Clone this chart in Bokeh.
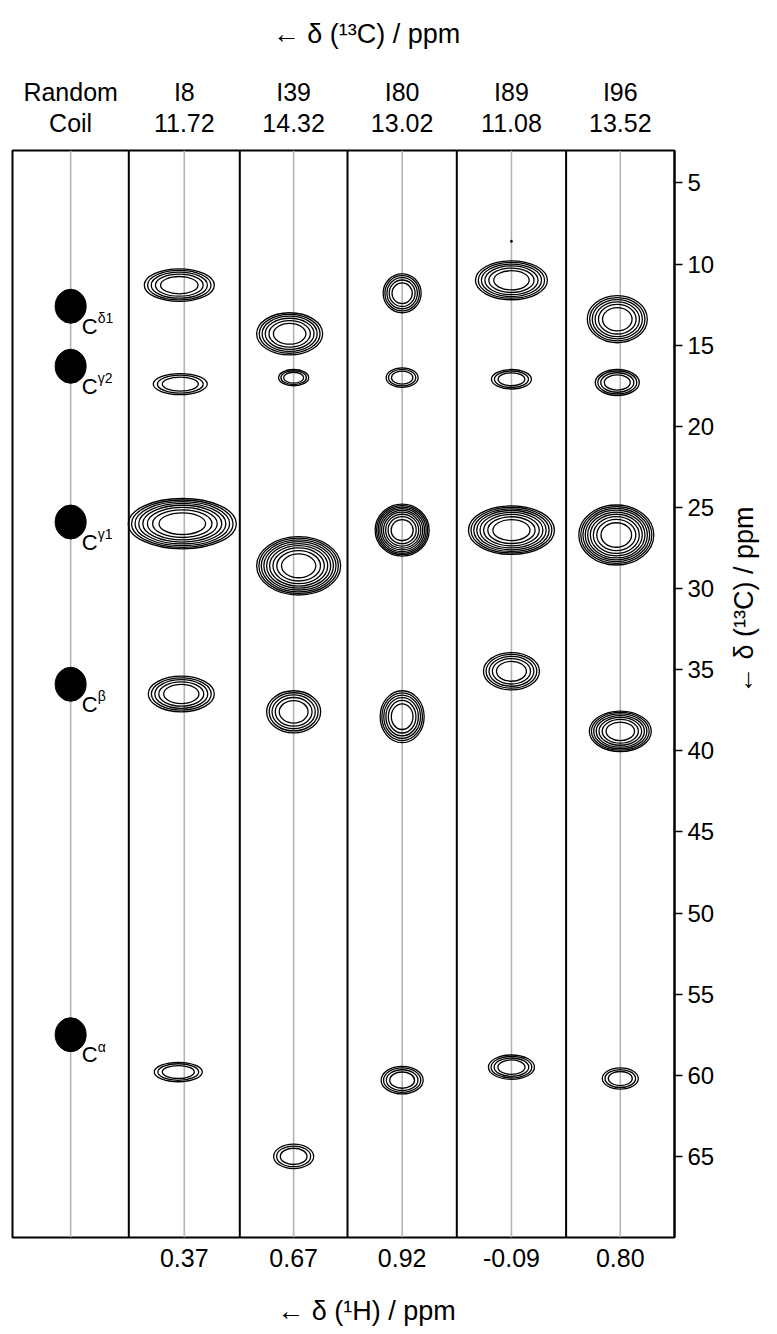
import math
from bokeh.plotting import figure
from bokeh.models import Range1d, FixedTicker, LinearAxis, ColumnDataSource
from bokeh.core.properties import value
from bokeh.embed import file_html
from bokeh.resources import INLINE

# ---------------- data ----------------
RESIDUES = ["I8", "I39", "I80", "I89", "I96"]
C13_SHIFTS = ["11.72", "14.32", "13.02", "11.08", "13.52"]
H1_SHIFTS = ["0.37", "0.67", "0.92", "-0.09", "0.80"]

# strip boundaries (x units = frame pixels), first strip = random coil
STRIP_EDGES = [0, 116.3, 227.3, 335, 444.3, 553.6, 662]

# random-coil reference shifts (13C, ppm)
RC_ATOMS = ["δ1", "γ2", "γ1", "β", "α"]
RC_PPM = [12.6, 16.3, 25.9, 35.9, 57.5]

# observed cross peaks: strip index (1..5), 1H offset in strip, 13C ppm,
# width (x units), height (ppm), number of contour levels
PEAK_STRIP = [1, 1, 1, 1, 1,
              2, 2, 2, 2, 2,
              3, 3, 3, 3, 3,
              4, 4, 4, 4, 4,
              5, 5, 5, 5, 5]
PEAK_DX = [-5, -4, -2, -3, -6,
           -4, 0, 5, 0, 0,
           0, 0, 0, 0, 0,
           0, 0, 0, 0, 0,
           -3, -3, -4, 0, 0]
PEAK_PPM = [11.3, 17.4, 26.0, 36.5, 59.8,
            14.3, 17.0, 28.6, 37.6, 65.0,
            11.8, 17.0, 26.4, 37.9, 60.3,
            11.0, 17.1, 26.4, 35.1, 59.5,
            13.4, 17.3, 26.7, 38.8, 60.2]
PEAK_W = [70, 54, 108, 66, 48,
          66, 30, 84, 54, 40,
          38, 32, 54, 44, 42,
          72, 40, 86, 56, 46,
          60, 44, 75, 62, 36]
PEAK_H = [2.0, 1.3, 3.1, 2.2, 1.2,
          2.6, 1.0, 3.6, 2.6, 1.5,
          2.4, 1.2, 3.2, 3.2, 1.7,
          2.4, 1.2, 3.0, 2.3, 1.5,
          2.9, 1.6, 3.7, 2.5, 1.3]
PEAK_N = [5, 3, 8, 5, 3,
          6, 3, 9, 5, 3,
          5, 3, 9, 6, 4,
          6, 3, 8, 5, 4,
          6, 4, 9, 7, 3]
NOISE_STRIP = [4]
NOISE_PPM = [8.6]

Y_TICKS = [5, 10, 15, 20, 25, 30, 35, 40, 45, 50, 55, 60, 65]

FONT = "Liberation Sans"
C13_LABEL = "← δ (¹³C) / ppm"
H1_LABEL = "← δ (¹H) / ppm"
SHIFT = "\u2003\u2002\u2009"  # centres the outer axis titles like the original

# ---------------- figure ----------------
p = figure(width=777, height=1334,
           x_range=Range1d(0, 662), y_range=Range1d(70, 3),
           x_axis_location=None, y_axis_location="right",
           min_border_left=12, min_border_right=103,
           min_border_top=150, min_border_bottom=97,
           toolbar_location=None, output_backend="svg")
p.grid.visible = False
p.outline_line_color = "black"
p.outline_line_width = 2
p.background_fill_color = "white"
p.border_fill_color = "white"

centers = [(STRIP_EDGES[i] + STRIP_EDGES[i + 1]) / 2 for i in range(len(STRIP_EDGES) - 1)]

# gray center lines
p.segment(x0=centers, y0=[3] * len(centers), x1=centers, y1=[70] * len(centers),
          line_color="#b4b4b4", line_width=1.6)
# strip separators
inner = STRIP_EDGES[1:-1]
p.segment(x0=inner, y0=[3] * len(inner), x1=inner, y1=[70] * len(inner),
          line_color="black", line_width=2)

# random-coil dots
p.ellipse(x=[centers[0]] * len(RC_PPM), y=RC_PPM, width=31, height=34,
          width_units="screen", height_units="screen",
          fill_color="black", line_color="black")
p.text(x=[centers[0]] * len(RC_PPM), y=RC_PPM, text=["C"] * len(RC_PPM),
       x_offset=11, y_offset=20, text_font=value(FONT), text_font_size="22px",
       text_align="left", text_baseline="middle", text_color="black")
p.text(x=[centers[0]] * len(RC_PPM), y=RC_PPM, text=RC_ATOMS,
       x_offset=27, y_offset=12, text_font=value(FONT), text_font_size="14px",
       text_align="left", text_baseline="middle", text_color="black")

# contour peaks: concentric rings
xs, ys, ws, hs = [], [], [], []
for s, dx, ppm, w, h, n in zip(PEAK_STRIP, PEAK_DX, PEAK_PPM, PEAK_W, PEAK_H, PEAK_N):
    for k in range(n):
        f = math.sqrt(1 - k / (n + 0.6))
        xs.append(centers[s] + dx)
        ys.append(ppm)
        ws.append(w * f)
        hs.append(h * f)
src = ColumnDataSource(dict(x=xs, y=ys, w=ws, h=hs))
p.ellipse(x="x", y="y", width="w", height="h", source=src,
          fill_color=None, line_color="black", line_width=1.3)

p.scatter(x=[centers[s] for s in NOISE_STRIP], y=NOISE_PPM, size=2, color="black")

# right axis (13C)
ax = p.yaxis[0]
ax.ticker = FixedTicker(ticks=Y_TICKS)
ax.major_label_text_font = FONT
ax.major_label_text_font_size = "24px"
ax.major_label_text_color = "black"
ax.major_tick_out = 8
ax.major_tick_in = 0
ax.minor_tick_out = 0
ax.minor_tick_in = 0
ax.axis_line_width = 2
ax.major_tick_line_width = 1.5
ax.major_label_standoff = 5
ax.axis_label = C13_LABEL
ax.axis_label_text_font = FONT
ax.axis_label_text_font_size = "27px"
ax.axis_label_text_font_style = "normal"
ax.axis_label_text_color = "black"
ax.axis_label_standoff = 27
if "axis_label_orientation" in ax.properties():
    ax.axis_label_orientation = math.pi / 2

# top header axis: strip names and 13C plane shifts
top_labels = {c: f"{a}\n{b}" for c, a, b in zip(centers, ["Random"] + RESIDUES,
                                                   ["Coil"] + C13_SHIFTS)}
top = LinearAxis(ticker=FixedTicker(ticks=centers), major_label_overrides=top_labels,
                 major_tick_in=0, major_tick_out=0, minor_tick_in=0, minor_tick_out=0,
                 axis_line_color=None, major_label_standoff=14,
                 major_label_text_font=FONT, major_label_text_font_size="25px",
                 major_label_text_color="black", major_label_text_line_height=1.08,
                 axis_label=SHIFT + C13_LABEL, axis_label_text_font=FONT,
                 axis_label_text_font_size="27px", axis_label_text_font_style="normal",
                 axis_label_text_color="black", axis_label_standoff=26)
p.add_layout(top, "above")

# bottom axis: 1H shifts
bot = LinearAxis(ticker=FixedTicker(ticks=centers[1:]),
                 major_label_overrides={c: t for c, t in zip(centers[1:], H1_SHIFTS)},
                 major_tick_in=0, major_tick_out=0, minor_tick_in=0, minor_tick_out=0,
                 axis_line_color=None, major_label_standoff=11,
                 major_label_text_font=FONT, major_label_text_font_size="25px",
                 major_label_text_color="black",
                 axis_label=SHIFT + H1_LABEL, axis_label_text_font=FONT,
                 axis_label_text_font_size="27px", axis_label_text_font_style="normal",
                 axis_label_text_color="black", axis_label_standoff=26)
p.add_layout(bot, "below")

open("out.html", "w").write(file_html(p, INLINE))
